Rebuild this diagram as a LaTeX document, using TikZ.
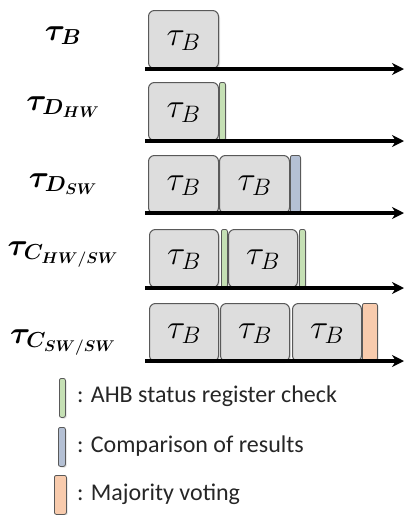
\RequirePackage{fix-cm}
\documentclass[tikz,border=0pt]{standalone}
\usepackage{amsmath}
\usepackage{fontspec}
\newfontfamily\legendfont{Carlito}
\usetikzlibrary{arrows.meta,shadows}
\definecolor{boxfill}{HTML}{DDDDDD}
\definecolor{boxdraw}{HTML}{595959}
\definecolor{gfill}{HTML}{C5E0B4}
\definecolor{bfill}{HTML}{B4C0D4}
\definecolor{ofill}{HTML}{F8CBAD}
\tikzset{
  tbox/.style={draw=boxdraw, fill=boxfill, line width=1pt, rounded corners=6pt,
    inner sep=0pt, anchor=north west, text height=35pt, text depth=23pt,
    drop shadow={shadow xshift=1.5pt, shadow yshift=-1.5pt, opacity=0.25},
    font=\fontsize{34}{34}\selectfont},
  bar/.style={draw=boxdraw, line width=0.8pt, rounded corners=2pt, inner sep=0pt,
    anchor=north west, minimum height=58pt,
    drop shadow={shadow xshift=1.2pt, shadow yshift=-1.2pt, opacity=0.25}},
  gbar/.style={bar, fill=gfill, minimum width=6pt},
  bbar/.style={bar, fill=bfill, minimum width=10pt},
  obar/.style={bar, fill=ofill, minimum width=15pt},
  axis/.style={line width=3.3pt, -{Stealth[length=12pt,width=12pt]}},
  rowlabel/.style={anchor=base, inner sep=0pt, font=\fontsize{31}{31}\selectfont\boldmath},
  legtext/.style={anchor=west, inner sep=0pt, font=\legendfont\fontsize{24}{26}\selectfont, text=black!85}
}
\begin{document}
\begin{tikzpicture}[x=1pt,y=-1pt]
\useasboundingbox (0,0) rectangle (404,515);
% row labels
\node[rowlabel] (l1) at (63,40) {$\tau_B$};
\node[rowlabel] (l2) at (63,110) {$\tau_{D_{HW}}$};
\node[rowlabel] (l3) at (63,187) {$\tau_{D_{SW}}$};
\node[rowlabel] (l4) at (63,255) {$\tau_{C_{HW/SW}}$};
\node[rowlabel] (l5) at (63,343) {$\tau_{C_{SW/SW}}$};
% row 1
\node[tbox, minimum width=70pt] (r1b1) at (148,10) {$\tau_B$};
\coordinate (a1s) at (145,69);
\coordinate (a1e) at (404,69);
\draw[axis] (a1s) -- (a1e);
% row 2
\node[tbox, minimum width=70pt] (r2b1) at (148,82) {$\tau_B$};
\node[gbar] (r2g1) at (219,82) {};
\coordinate (a2s) at (145,141);
\coordinate (a2e) at (404,141);
\draw[axis] (a2s) -- (a2e);
% row 3
\node[tbox, minimum width=70pt] (r3b1) at (148,155) {$\tau_B$};
\node[tbox, minimum width=70pt] (r3b2) at (219,155) {$\tau_B$};
\node[bbar, minimum height=57pt] (r3c1) at (290,155) {};
\coordinate (a3s) at (145,213);
\coordinate (a3e) at (404,213);
\draw[axis] (a3s) -- (a3e);
% row 4
\node[tbox, minimum width=69pt] (r4b1) at (149,229) {$\tau_B$};
\node[gbar] (r4g1) at (221,229) {};
\node[tbox, minimum width=69pt] (r4b2) at (228,229) {$\tau_B$};
\node[gbar] (r4g2) at (299,229) {};
\coordinate (a4s) at (145,288);
\coordinate (a4e) at (404,288);
\draw[axis] (a4s) -- (a4e);
% row 5
\node[tbox, minimum width=69pt] (r5b1) at (149,303) {$\tau_B$};
\node[tbox, minimum width=69pt] (r5b2) at (220,303) {$\tau_B$};
\node[tbox, minimum width=69pt] (r5b3) at (292,303) {$\tau_B$};
\node[obar, minimum height=57pt] (r5v1) at (362,303) {};
\coordinate (a5s) at (145,361);
\coordinate (a5e) at (404,361);
\draw[axis] (a5s) -- (a5e);
% legend
\node[gbar, minimum height=39pt] (lg) at (59,378) {};
\node[legtext] (tg) at (77,396) {: AHB status register check};
\node[bbar, minimum width=7pt, minimum height=39pt] (lb) at (58,427) {};
\node[legtext] (tb) at (77,446) {: Comparison of results};
\node[obar, minimum width=12pt, minimum height=39pt] (lo) at (54,475) {};
\node[legtext] (to) at (77,494) {: Majority voting};
\end{tikzpicture}
\end{document}
